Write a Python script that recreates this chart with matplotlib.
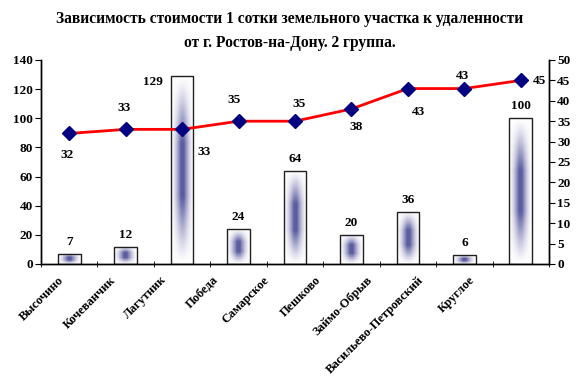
import numpy as np
import matplotlib
matplotlib.use("Agg")
import matplotlib.pyplot as plt

plt.rcParams['font.family'] = ['Liberation Serif', 'DejaVu Serif']
plt.rcParams['font.weight'] = 'bold'

title = "Зависимость стоимости 1 сотки земельного участка к удаленности\nот г. Ростов-на-Дону. 2 группа."
places = ["Высочино", "Кочеванчик", "Лагутник", "Победа", "Самарское",
          "Пешково", "Займо-Обрыв", "Васильево-Петровский", "Круглое"]
bar_vals = [7, 12, 129, 24, 64, 20, 36, 6, 100]
line_vals = [32, 33, 33, 35, 35, 38, 43, 43, 45]

# label offsets in pixels (style only)
line_lab_off = [(-2, -22), (-2, 21), (22, -23), (-4, 21), (4, 17),
                (5, -18), (11, -23), (-2, 13), (19, -1)]
bar_lab_off = [(0, 12), (0, 12), (-29, -6), (0, 12), (0, 12),
               (0, 12), (0, 12), (0, 12), (0, 12)]

W, H = 580, 384
fig = plt.figure(figsize=(W/100, H/100), dpi=100)
ax = fig.add_axes([41/W, 1-264/H, 508/W, 204/H])
ax2 = ax.twinx()

x = np.arange(len(places))
bw = 0.4
center_col = np.array([92, 92, 160]) / 255.0

# gradient bars
u = np.linspace(-1, 1, 40)
for xi, h in zip(x, bar_vals):
    v = np.linspace(-1, 1, 80)
    hx = np.clip((1 - np.abs(u)) * 1.15, 0, 1) ** 1.5
    hy = np.clip((1 - np.abs(v)) * 1.4, 0, 1) ** 1.2
    inten = np.outer(hy, hx)[..., None]
    img = (1 - inten) * 1.0 + inten * center_col
    ax.imshow(img, extent=[xi - bw/2, xi + bw/2, 0, h], aspect='auto',
              interpolation='bilinear', zorder=2, origin='lower')
    ax.add_patch(plt.Rectangle((xi - bw/2, 0), bw, h, fill=False,
                               edgecolor='#202020', linewidth=1, zorder=3))

for xi, h, off in zip(x, bar_vals, bar_lab_off):
    ax.annotate(str(h), (xi, h), xytext=off, textcoords='offset pixels',
                ha='center', va='center', fontsize=9.5, fontweight='bold')

ax.set_xlim(-0.5, len(places) - 0.5)
ax.set_ylim(0, 140)
ax.set_yticks(np.arange(0, 141, 20))
ax.set_xticks(x)
ax.set_xticklabels([])
ax.tick_params(axis='x', which='major', length=0)
ax.set_xticks(np.arange(-0.5, len(places)), minor=True)
ax.tick_params(axis='x', which='minor', length=5, direction='inout')
ax.tick_params(axis='y', direction='out', length=4, labelsize=9.5, pad=2)
for lab in ax.get_yticklabels():
    lab.set_fontweight('bold')

# category labels (placed as in the original, slightly tighter than the axis)
for i, name in enumerate(places):
    xp = 58 + 51.3 * i
    fig.text(xp / W, 1 - 274 / H, name, rotation=45, ha='right', va='top',
             rotation_mode='anchor', fontsize=9, fontweight='bold')

ax2.plot(x, line_vals, color='red', linewidth=2, marker='D',
         markersize=7, markerfacecolor='#000080', markeredgecolor='#000080',
         zorder=5)
for xi, val, off in zip(x, line_vals, line_lab_off):
    ax2.annotate(str(val), (xi, val), xytext=off, textcoords='offset pixels',
                 ha='center', va='center', fontsize=9.5, fontweight='bold')
ax2.set_ylim(0, 50)
ax2.set_yticks(np.arange(0, 51, 5))
ax2.tick_params(axis='y', direction='out', length=4, labelsize=9.5, pad=2)
for lab in ax2.get_yticklabels():
    lab.set_fontweight('bold')

for a in (ax, ax2):
    a.spines['top'].set_visible(False)
    for s in a.spines.values():
        s.set_linewidth(1)

fig.text(0.5, 1 - 31 / H, title, ha='center', va='center', fontsize=11.2,
         fontweight='bold', linespacing=1.6)

fig.savefig("out.png", dpi=100)
